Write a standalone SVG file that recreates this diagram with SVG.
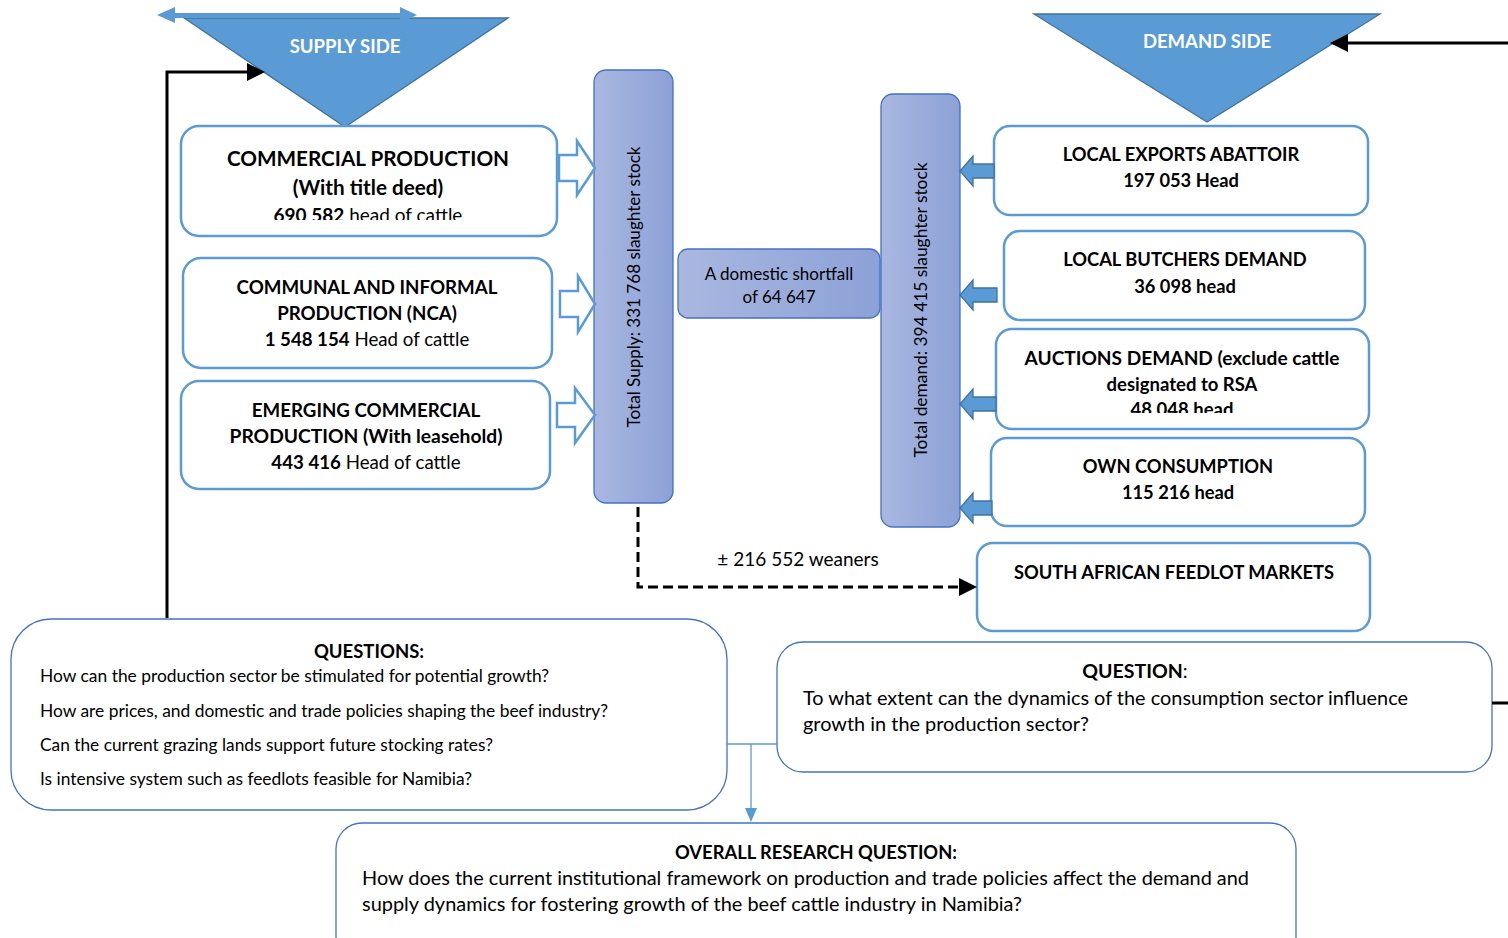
<svg xmlns="http://www.w3.org/2000/svg" width="1508" height="938" viewBox="0 0 1508 938">
<style>
.t{font-family:Lato,"Open Sans","Liberation Sans",sans-serif;fill:#000}
.b{font-weight:bold}
.c{text-anchor:middle}
.box{fill:#fff;stroke:#5B9BD5;stroke-width:2.5}
.qbox{fill:#fff;stroke:#4472C4;stroke-width:1.3}
.bar{fill:url(#g);stroke:#4472C4;stroke-width:1.3}
.oarr{fill:#fff;stroke:#5B9BD5;stroke-width:2.5}
.farr{fill:#5B9BD5;stroke:#41719C;stroke-width:1.3}
.tri{fill:#5B9BD5;stroke:#41719C;stroke-width:1.3}
.blk{fill:none;stroke:#000;stroke-width:3}
</style>
<defs>
<linearGradient id="g" x1="0" y1="0" x2="1" y2="0">
<stop offset="0" stop-color="#AAB8E0"/>
<stop offset="1" stop-color="#8CA1D7"/>
</linearGradient>
<marker id="ah" markerWidth="6" markerHeight="6" refX="5" refY="3" orient="auto" markerUnits="strokeWidth">
<path d="M0,0 L6,3 L0,6 Z" fill="#000"/>
</marker>
<clipPath id="c1"><rect x="180" y="120" width="380" height="100"/></clipPath>
<clipPath id="c2"><rect x="990" y="325" width="380" height="88"/></clipPath>
</defs>

<g id="supply-side">
<polygon class="tri" points="184,18 508,18 345,127"/>
<polygon fill="#5B9BD5" points="157,15 175,7 175,13 400,13 400,7 417,15 400,23 400,18 175,18 175,23"/>
<text class="t b c" x="345" y="53" font-size="18.5" style="fill:#fff">SUPPLY SIDE</text>
</g>

<g id="demand-side">
<polygon class="tri" points="1034,14 1380,14 1207,122"/>
<text class="t b c" x="1207" y="48" font-size="18.5" style="fill:#fff">DEMAND SIDE</text>
</g>

<g id="commercial">
<rect class="box" x="181" y="126" width="376" height="110" rx="18"/>
<text class="t b c" x="368" y="166" font-size="20.7">COMMERCIAL PRODUCTION</text>
<text class="t b c" x="368" y="195" font-size="20.7">(With title deed)</text>
<g clip-path="url(#c1)"><text class="t c" x="368" y="221.5" font-size="19"><tspan class="b">690 582</tspan> head of cattle</text></g>
</g>

<g id="communal">
<rect class="box" x="183" y="258" width="369" height="110" rx="18"/>
<text class="t b c" x="367" y="294" font-size="18.7">COMMUNAL AND INFORMAL</text>
<text class="t b c" x="367" y="320" font-size="18.7">PRODUCTION (NCA)</text>
<text class="t c" x="367" y="346" font-size="18.7"><tspan class="b">1 548 154</tspan> Head of cattle</text>
</g>

<g id="emerging">
<rect class="box" x="181" y="381" width="369" height="108" rx="18"/>
<text class="t b c" x="366" y="417" font-size="18.7">EMERGING COMMERCIAL</text>
<text class="t b c" x="366" y="443" font-size="18.7" textLength="273" lengthAdjust="spacingAndGlyphs">PRODUCTION (With leasehold)</text>
<text class="t c" x="366" y="469" font-size="18.7"><tspan class="b">443 416</tspan> Head of cattle</text>
</g>

<g id="total-supply">
<rect class="bar" x="594" y="70" width="79" height="433" rx="12"/>
<text class="t c" transform="translate(640,287) rotate(-90)" font-size="17" textLength="281" lengthAdjust="spacingAndGlyphs">Total Supply: 331 768 slaughter stock</text>
</g>

<g id="shortfall">
<rect class="bar" x="678" y="249" width="202" height="69" rx="10"/>
<text class="t c" x="779" y="280" font-size="17">A domestic shortfall</text>
<text class="t c" x="779" y="303" font-size="17">of 64 647</text>
</g>

<g id="total-demand">
<rect class="bar" x="881" y="94" width="79" height="433" rx="12"/>
<text class="t c" transform="translate(927,310) rotate(-90)" font-size="17" textLength="295" lengthAdjust="spacingAndGlyphs">Total demand: 394 415 slaughter stock</text>
</g>

<g id="local-exports">
<rect class="box" x="994" y="126" width="374" height="89" rx="16"/>
<text class="t b c" x="1181" y="161" font-size="18.3">LOCAL EXPORTS ABATTOIR</text>
<text class="t b c" x="1181" y="187" font-size="18.3">197 053 Head</text>
</g>

<g id="local-butchers">
<rect class="box" x="1004" y="231" width="361" height="89" rx="16"/>
<text class="t b c" x="1185" y="266" font-size="18.3">LOCAL BUTCHERS DEMAND</text>
<text class="t b c" x="1185" y="293" font-size="18.3">36 098 head</text>
</g>

<g id="auctions">
<rect class="box" x="996" y="329" width="373" height="100" rx="16"/>
<text class="t b c" x="1182" y="365" font-size="18.5" textLength="315" lengthAdjust="spacingAndGlyphs">AUCTIONS DEMAND (exclude cattle</text>
<text class="t b c" x="1182" y="391" font-size="18.5">designated to RSA</text>
<g clip-path="url(#c2)"><text class="t b c" x="1182" y="416" font-size="18.5">48 048 head</text></g>
</g>

<g id="own-consumption">
<rect class="box" x="991" y="438" width="374" height="88" rx="16"/>
<text class="t b c" x="1178" y="473" font-size="18.3">OWN CONSUMPTION</text>
<text class="t b c" x="1178" y="499" font-size="18.3">115 216 head</text>
</g>

<g id="sa-feedlot">
<rect class="box" x="977" y="543" width="393" height="88" rx="16"/>
<text class="t b c" x="1174" y="579" font-size="18.3">SOUTH AFRICAN FEEDLOT MARKETS</text>
</g>

<g id="questions">
<rect class="qbox" x="11" y="619" width="716" height="191" rx="40"/>
<text class="t b c" x="369" y="658" font-size="18.5">QUESTIONS:</text>
<text class="t" x="40" y="682" font-size="16.5" textLength="509" lengthAdjust="spacingAndGlyphs">How can the production sector be stimulated for potential growth?</text>
<text class="t" x="40" y="717" font-size="16.5" textLength="568" lengthAdjust="spacingAndGlyphs">How are prices, and domestic and trade policies shaping the beef industry?</text>
<text class="t" x="40" y="751" font-size="16.5" textLength="453" lengthAdjust="spacingAndGlyphs">Can the current grazing lands support future stocking rates?</text>
<text class="t" x="40" y="785" font-size="16.5" textLength="432" lengthAdjust="spacingAndGlyphs">Is intensive system such as feedlots feasible for Namibia?</text>
</g>

<g id="question">
<rect class="qbox" x="777" y="642" width="715" height="130" rx="26"/>
<text class="t c" x="1135" y="678" font-size="19.5"><tspan class="b">QUESTION</tspan>:</text>
<text class="t" x="803" y="705" font-size="19.5" textLength="605" lengthAdjust="spacingAndGlyphs">To what extent can the dynamics of the consumption sector influence</text>
<text class="t" x="803" y="731" font-size="19.5" textLength="286" lengthAdjust="spacingAndGlyphs">growth in the production sector?</text>
</g>

<g id="overall">
<rect class="qbox" x="336" y="823" width="960" height="140" rx="26"/>
<text class="t b c" x="816" y="859" font-size="19.5" textLength="282" lengthAdjust="spacingAndGlyphs">OVERALL RESEARCH QUESTION:</text>
<text class="t" x="362" y="885" font-size="19.5" textLength="887" lengthAdjust="spacingAndGlyphs">How does the current institutional framework on production and trade policies affect the demand and</text>
<text class="t" x="362" y="911" font-size="19.5" textLength="660" lengthAdjust="spacingAndGlyphs">supply dynamics for fostering growth of the beef cattle industry in Namibia?</text>
</g>

<g id="connectors">
<path class="oarr" d="M559,155 L577,155 L577,141 L595,168 L577,195 L577,181 L559,181 Z"/>
<path class="oarr" d="M560,291 L578,291 L578,276 L595,304 L578,332 L578,317 L560,317 Z"/>
<path class="oarr" d="M557,403 L575,403 L575,388 L595,415 L575,443 L575,427 L557,427 Z"/>
<path class="farr" d="M994,164 L973,164 L973,156 L960,171 L973,186 L973,178 L994,178 Z"/>
<path class="farr" d="M997,288 L973,288 L973,280 L960,295 L973,310 L973,302 L997,302 Z"/>
<path class="farr" d="M996,397 L973,397 L973,389 L960,404 L973,419 L973,411 L996,411 Z"/>
<path class="farr" d="M992,501 L973,501 L973,493 L960,508 L973,523 L973,515 L992,515 Z"/>
<polyline class="blk" points="167,618 167,72 262,72" marker-end="url(#ah)"/>
<line class="blk" x1="1508" y1="43" x2="1333" y2="43" marker-end="url(#ah)"/>
<line class="blk" x1="1492" y1="703" x2="1508" y2="703"/>
<path class="blk" d="M638,507 V587 H974" stroke-dasharray="10,5" marker-end="url(#ah)"/>
<text class="t c" x="798" y="566" font-size="19">± 216 552 weaners</text>
<path d="M727,744 H777 M751,744 V810" fill="none" stroke="#5B9BD5" stroke-width="1.3"/>
<polygon points="745,808 757,808 751,822" fill="#5B9BD5"/>
</g>
</svg>
